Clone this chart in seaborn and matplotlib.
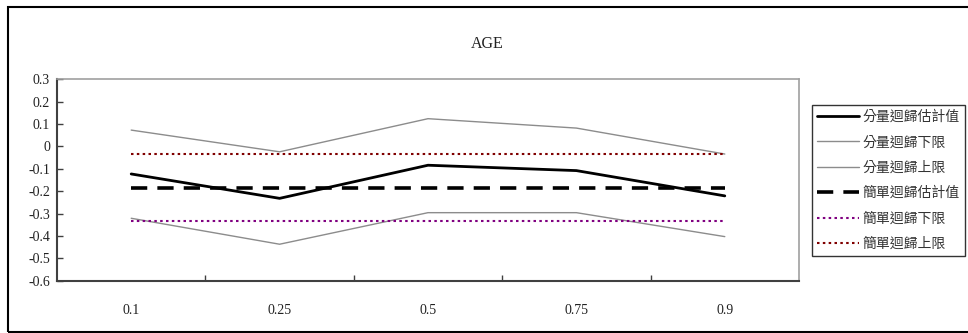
import matplotlib
matplotlib.use("Agg")
import matplotlib.pyplot as plt
import matplotlib.patches as mpatches
from matplotlib.ticker import FixedLocator
import seaborn as sns
import pandas as pd
import numpy as np

quantiles = ["0.1", "0.25", "0.5", "0.75", "0.9"]
qr_est = [-0.123, -0.232, -0.084, -0.108, -0.221]
qr_lower = [-0.321, -0.437, -0.296, -0.296, -0.403]
qr_upper = [0.073, -0.024, 0.124, 0.082, -0.034]
ols_est = [-0.187, -0.187, -0.187, -0.187, -0.187]
ols_lower = [-0.332, -0.332, -0.332, -0.332, -0.332]
ols_upper = [-0.035, -0.035, -0.035, -0.035, -0.035]
y_ticks = [0.3, 0.2, 0.1, 0, -0.1, -0.2, -0.3, -0.4, -0.5, -0.6]
y_labels = ["0.3", "0.2", "0.1", "0", "-0.1", "-0.2", "-0.3", "-0.4", "-0.5", "-0.6"]
title = "AGE"
names = ["分量迴歸估計值", "分量迴歸下限", "分量迴歸上限", "簡單迴歸估計值", "簡單迴歸下限", "簡單迴歸上限"]

sns.set_theme(style="white")
plt.rcParams["font.family"] = ["Liberation Serif", "Noto Sans CJK TC"]

fig = plt.figure(figsize=(9.68, 3.33), dpi=100)
ax = fig.add_axes([57/968, 1-280.7/333, (799-57)/968, (280.7-79.3)/333])

x = np.arange(len(quantiles))
series = [qr_est, qr_lower, qr_upper, ols_est, ols_lower, ols_upper]
styles = [
    dict(color="black", lw=2.0),
    dict(color="#8c8c8c", lw=1.0),
    dict(color="#8c8c8c", lw=1.0),
    dict(color="black", lw=2.6, dashes=(4.5, 2.8)),
    dict(color="#800080", lw=1.5, dashes=(1.2, 1.6)),
    dict(color="#800000", lw=1.5, dashes=(1.2, 1.6)),
]
for name, vals, st in zip(names, series, styles):
    df = pd.DataFrame({"x": x, "y": vals})
    sns.lineplot(data=df, x="x", y="y", ax=ax, color=st["color"], linewidth=st["lw"], label=name)
    l = ax.get_lines()[-1]
    if "dashes" in st:
        l.set_dashes(st["dashes"])
        l.set_dash_capstyle("butt")

ax.set_xlim(-0.5, len(quantiles) - 0.5)
ax.set_ylim(-0.6, 0.3)
ax.set_xticks(x)
ax.set_xticklabels(quantiles)
ax.xaxis.set_minor_locator(FixedLocator([0.5, 1.5, 2.5, 3.5]))
ax.tick_params(axis="x", which="major", length=0, pad=17, labelsize=10, labelcolor="#222222")
ax.tick_params(axis="x", which="minor", length=4, direction="in", width=1, color="#404040", bottom=True)
ax.set_yticks(y_ticks)
ax.set_yticklabels(y_labels)
ax.tick_params(axis="y", length=4, direction="in", width=1, color="#404040", labelsize=10, pad=5,
               left=True, labelcolor="#222222")
ax.set_xlabel("")
ax.set_ylabel("")
for s in ["left", "bottom"]:
    ax.spines[s].set_color("#404040")
    ax.spines[s].set_linewidth(1.5)
for s in ["top", "right"]:
    ax.spines[s].set_color("#a0a0a0")
    ax.spines[s].set_linewidth(1.2)
ax.grid(False)

fig.text(487/968, 1-44/333, title, ha="center", va="center", fontsize=11.5,
         family="Liberation Serif", color="#222222")

leg = ax.legend(loc="upper left", bbox_to_anchor=(812/968, 1-105/333), bbox_transform=fig.transFigure,
                borderaxespad=0, frameon=True, fancybox=False, handlelength=3.0, handletextpad=0.3,
                labelspacing=0.82, borderpad=0.35, prop={"family": ["Noto Sans CJK TC"], "size": 10})
leg.get_frame().set_edgecolor("black")
leg.get_frame().set_linewidth(1.0)
for t in leg.get_texts():
    t.set_color("#333333")

border = mpatches.Rectangle((8/968, 1-332/333), 1.0, (332-6.5)/333, transform=fig.transFigure,
                            fill=False, edgecolor="black", linewidth=1.5, clip_on=False)
fig.add_artist(border)

fig.savefig("out.png", dpi=100)
